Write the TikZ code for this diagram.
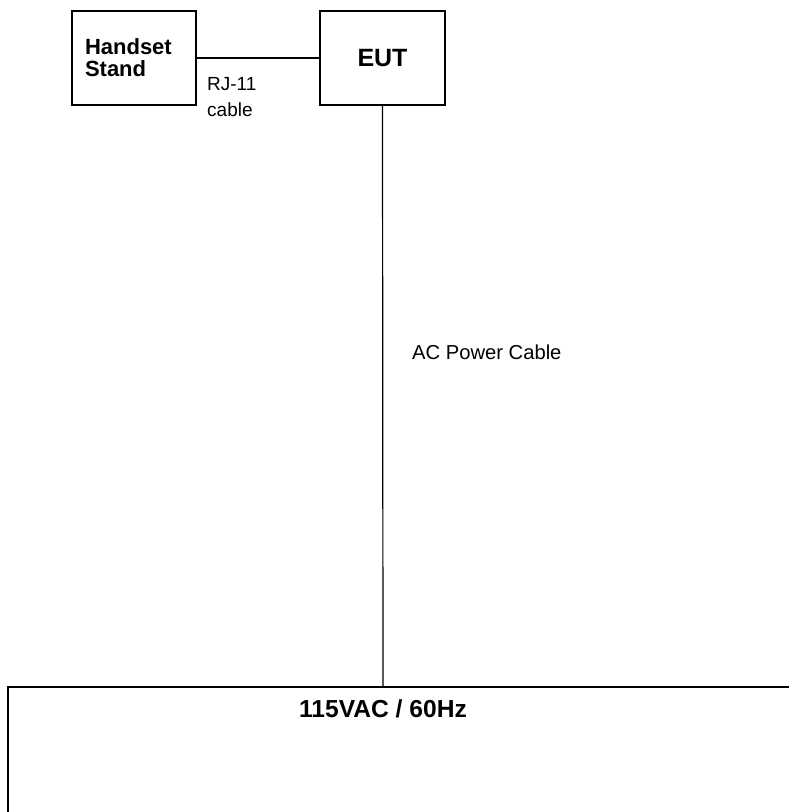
\documentclass[tikz,border=0pt]{standalone}
\usepackage{fontspec}
\setmainfont{Liberation Sans}
\usetikzlibrary{positioning, calc}
\tikzset{
    block_box/.style={rectangle, draw, line width=1.2pt, inner sep=0pt},
    cable/.style={line width=1.2pt},
    note/.style={inner sep=0pt, align=left, font=\fontsize{19}{26}\selectfont}
}

\begin{document}
\begin{tikzpicture}[x=1pt, y=-1pt]
			\useasboundingbox (0,0) rectangle (789,812);
			\node (stand) [block_box, minimum width=124pt, minimum height=94pt, text width=98pt, align=left, font=\bfseries\fontsize{22}{23}\selectfont] at (134,58) {Handset\\[-1pt]Stand\\[14pt]};
			\node (eut) [block_box, minimum width=125pt, minimum height=94pt, font=\bfseries\fontsize{25}{28}\selectfont] at (382.5,58) {\raisebox{-3pt}{EUT}};
			\coordinate (mainstop) at (383,687);
			\node (mains) [inner sep=0pt, font=\bfseries\fontsize{24.6}{28}\selectfont] at (383,709) {115VAC / 60Hz};

			\node (rj) [note, anchor=north west] at (207,77) {RJ-11\\cable};
			\node (ac) [note, anchor=west, font=\fontsize{20.2}{24}\selectfont] at (412,352) {AC Power Cable};

			\draw [cable] (stand) -- (eut);
			\draw [cable] (eut.south) -- (mainstop);
            \draw [line width=1.6pt] (8,830) -- (8,687) -- (800,687);
		\end{tikzpicture}
\end{document}
